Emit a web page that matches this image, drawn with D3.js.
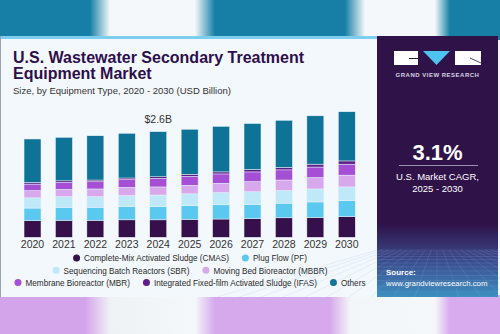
<!DOCTYPE html>
<html>
<head>
<meta charset="utf-8">
<script src="https://cdn.jsdelivr.net/npm/d3@7"></script>
<style>
  html, body { margin: 0; padding: 0; background: #f3f8fc; }
  svg { display: block; font-family: "Liberation Sans", Arial, sans-serif; }
</style>
</head>
<body>
<svg id="chart" width="500" height="334"></svg>
<script>
// data (USD billion)
var years = ["2020", "2021", "2022", "2023", "2024", "2025", "2026", "2027", "2028", "2029", "2030"];
var segments = ["CMAS", "PF", "SBR", "MBBR", "MBR", "IFAS", "Others"];
var segmentNames = ["Complete-Mix Activated Sludge (CMAS)", "Plug Flow (PF)", "Sequencing Batch Reactors (SBR)",
  "Moving Bed Bioreactor (MBBR)", "Membrane Bioreactor (MBR)", "Integrated Fixed-film Activated Sludge (IFAS)", "Others"];
var segmentColors = ["#35104a", "#5bc8f0", "#bfe8f8", "#d7a9ec", "#a54ed6", "#5b1f86", "#0e7396"];
var cmas   = [0.41, 0.42, 0.42, 0.43, 0.43, 0.44, 0.45, 0.46, 0.48, 0.49, 0.51];
var pf     = [0.31, 0.32, 0.32, 0.33, 0.33, 0.34, 0.35, 0.35, 0.36, 0.38, 0.39];
var sbr    = [0.25, 0.26, 0.26, 0.27, 0.28, 0.29, 0.30, 0.31, 0.31, 0.32, 0.34];
var mbbr   = [0.18, 0.18, 0.19, 0.20, 0.20, 0.21, 0.23, 0.25, 0.26, 0.28, 0.29];
var mbr    = [0.16, 0.17, 0.18, 0.19, 0.21, 0.22, 0.23, 0.24, 0.25, 0.26, 0.27];
var ifas   = [0.04, 0.04, 0.04, 0.04, 0.04, 0.05, 0.05, 0.06, 0.06, 0.07, 0.08];
var others = [1.07, 1.07, 1.09, 1.10, 1.11, 1.11, 1.12, 1.13, 1.16, 1.19, 1.21];
var series = [cmas, pf, sbr, mbbr, mbr, ifas, others];
var calloutYear = "2024";
var calloutText = "$2.6B";
var legendRows = [[0, 1], [2, 3], [4, 5, 6]];

var svg = d3.select("#chart");
var defs = svg.append("defs");

// blurred page background behind the card
var topGrad = defs.append("linearGradient").attr("id", "topGrad");
[[0, "#177fa5"], [0.18, "#177fa5"], [0.22, "#f4f8fb"], [0.39, "#f4f8fb"], [0.43, "#177fa5"], [0.69, "#177fa5"],
 [0.73, "#f4f8fb"], [0.87, "#f4f8fb"], [0.9, "#177fa5"], [1, "#177fa5"]].forEach(function(s) {
  topGrad.append("stop").attr("offset", s[0]).attr("stop-color", s[1]);
});
var botGrad = defs.append("linearGradient").attr("id", "botGrad");
[[0, "#d4a4ea"], [0.17, "#d4a4ea"], [0.22, "#eef2f4"], [0.39, "#f4f8fb"], [0.43, "#d6a8ec"], [0.66, "#d6a8ec"],
 [0.7, "#f2f6f8"], [0.87, "#f4f8fb"], [0.9, "#d8aaee"], [1, "#d8aaee"]].forEach(function(s) {
  botGrad.append("stop").attr("offset", s[0]).attr("stop-color", s[1]);
});
svg.append("rect").attr("width", 500).attr("height", 40).attr("fill", "url(#topGrad)");
svg.append("rect").attr("y", 295).attr("width", 500).attr("height", 39).attr("fill", "url(#botGrad)");

// card
svg.append("rect").attr("x", 0).attr("y", 36).attr("width", 378).attr("height", 261).attr("fill", "#f3f8fc");
svg.append("rect").attr("x", 0).attr("y", 36).attr("width", 378).attr("height", 3).attr("fill", "#7ccdee");
svg.append("rect").attr("x", 0).attr("y", 36).attr("width", 1).attr("height", 261).attr("fill", "#9aa4ae");

// titles
svg.append("text").attr("x", 13).attr("y", 63).attr("fill", "#2e0f4c")
  .attr("font-size", 16).attr("font-weight", "bold").text("U.S. Wastewater Secondary Treatment");
svg.append("text").attr("x", 13).attr("y", 79).attr("fill", "#2e0f4c")
  .attr("font-size", 16).attr("font-weight", "bold").text("Equipment Market");
svg.append("text").attr("x", 13).attr("y", 93.5).attr("fill", "#333")
  .attr("font-size", 9.5).text("Size, by Equipment Type, 2020 - 2030 (USD Billion)");

// scales
var x = d3.scaleBand().domain(years).range([16.8, 362.5]).paddingInner(0.46).paddingOuter(0.23);
var y = d3.scaleLinear().domain([0, 3.2]).range([237.3, 107.3]);

var table = years.map(function(yr, i) {
  var row = { year: yr };
  segments.forEach(function(s, j) { row[s] = series[j][i]; });
  return row;
});
var stacked = d3.stack().keys(segments)(table);

svg.append("g").selectAll("g").data(stacked).join("g")
  .attr("fill", function(d, i) { return segmentColors[i]; })
  .selectAll("rect").data(function(d) { return d; }).join("rect")
  .attr("x", function(d) { return x(d.data.year); })
  .attr("y", function(d) { return y(d[1]); })
  .attr("width", x.bandwidth())
  .attr("height", function(d) { return y(d[0]) - y(d[1]); })
  .attr("stroke", "#eaf3fa").attr("stroke-width", 0.5);

// year labels
var xAxis = svg.append("g").attr("transform", "translate(0,237)")
  .call(d3.axisBottom(x).tickSize(0).tickPadding(4));
xAxis.select(".domain").remove();
xAxis.selectAll("text").attr("font-size", 10.5).attr("fill", "#333")
  .attr("font-family", "Liberation Sans, Arial, sans-serif");

// callout
var total2024 = d3.sum(series, function(s) { return s[years.indexOf(calloutYear)]; });
svg.append("text").attr("x", x(calloutYear) + x.bandwidth() / 2).attr("y", y(total2024) - 9)
  .attr("text-anchor", "middle").attr("font-size", 10.5).attr("fill", "#333").text(calloutText);

// legend: the original face is condensed, so squeeze the labels horizontally
var legend = svg.append("g").attr("font-size", 9.5).attr("fill", "#2a2a2a");
var squeeze = 0.86;
legendRows.forEach(function(row, r) {
  var g = legend.append("g");
  var cx = 0;
  row.forEach(function(idx) {
    g.append("circle").attr("cx", cx + 3.5).attr("cy", 0).attr("r", 3.5).attr("fill", segmentColors[idx]);
    var t = g.append("text").attr("x", cx + 11).attr("y", 3.4).text(segmentNames[idx]);
    var w = t.node().getComputedTextLength() * squeeze;
    t.attr("textLength", w).attr("lengthAdjust", "spacingAndGlyphs");
    cx += 11 + w + 13;
  });
  var width = cx - 13;
  g.attr("transform", "translate(" + (190 - width / 2) + "," + (258 + r * 12.3) + ")");
});

// right panel
var panelGrad = defs.append("linearGradient").attr("id", "panelGrad").attr("x1", 0).attr("y1", 0).attr("x2", 0).attr("y2", 1);
panelGrad.append("stop").attr("offset", 0).attr("stop-color", "#2f1248");
panelGrad.append("stop").attr("offset", 0.72).attr("stop-color", "#2f1248");
panelGrad.append("stop").attr("offset", 0.86).attr("stop-color", "#3b4a8c");
panelGrad.append("stop").attr("offset", 1).attr("stop-color", "#3d8fc0");
svg.append("rect").attr("x", 377).attr("y", 36).attr("width", 121).attr("height", 261).attr("fill", "url(#panelGrad)");

// perspective grid in the lower part of the panel
var grid = svg.append("g").attr("stroke", "#8fb6e0").attr("stroke-opacity", 0.35).attr("stroke-width", 0.5);
d3.range(0, 16).forEach(function(i) {
  var yy = 250 + i * i * 0.2 + i * 1.6;
  if (yy < 297) grid.append("line").attr("x1", 377).attr("x2", 498).attr("y1", yy).attr("y2", yy);
});
d3.range(-10, 11).forEach(function(i) {
  grid.append("line").attr("x1", 437 + i * 6).attr("y1", 250).attr("x2", 437 + i * 22).attr("y2", 297);
});

// logo
svg.append("rect").attr("x", 394).attr("y", 51).attr("width", 24).attr("height", 14).attr("fill", "#fff");
svg.append("rect").attr("x", 409).attr("y", 58).attr("width", 9).attr("height", 1).attr("fill", "#2f1248");
svg.append("path").attr("d", "M423,51 L450,51 L436.5,65 Z").attr("fill", "#4fc3f0");
svg.append("rect").attr("x", 455).attr("y", 51).attr("width", 26).attr("height", 14).attr("fill", "#fff");
svg.append("path").attr("d", "M470,58 L481,63").attr("stroke", "#2f1248").attr("stroke-width", 0.8);
svg.append("text").attr("x", 437.5).attr("y", 77).attr("text-anchor", "middle").attr("fill", "#d8d4e0")
  .attr("font-size", 6).attr("font-weight", "bold").attr("letter-spacing", 0.5).text("GRAND VIEW RESEARCH");

// CAGR
svg.append("text").attr("x", 437.5).attr("y", 160).attr("text-anchor", "middle").attr("fill", "#fff")
  .attr("font-size", 22).attr("font-weight", "bold").text("3.1%");
svg.append("line").attr("x1", 399).attr("x2", 478).attr("y1", 165.5).attr("y2", 165.5)
  .attr("stroke", "#9e8fb4").attr("stroke-width", 1);
svg.append("text").attr("x", 437.5).attr("y", 180).attr("text-anchor", "middle").attr("fill", "#fff")
  .attr("font-size", 9.5).text("U.S. Market CAGR,");
svg.append("text").attr("x", 437.5).attr("y", 192).attr("text-anchor", "middle").attr("fill", "#fff")
  .attr("font-size", 9.5).text("2025 - 2030");

// source
svg.append("text").attr("x", 386).attr("y", 275).attr("fill", "#fff")
  .attr("font-size", 8).attr("font-weight", "bold").text("Source:");
svg.append("text").attr("x", 386).attr("y", 286).attr("fill", "#fff")
  .attr("font-size", 7.8).text("www.grandviewresearch.com");
</script>
</body>
</html>
